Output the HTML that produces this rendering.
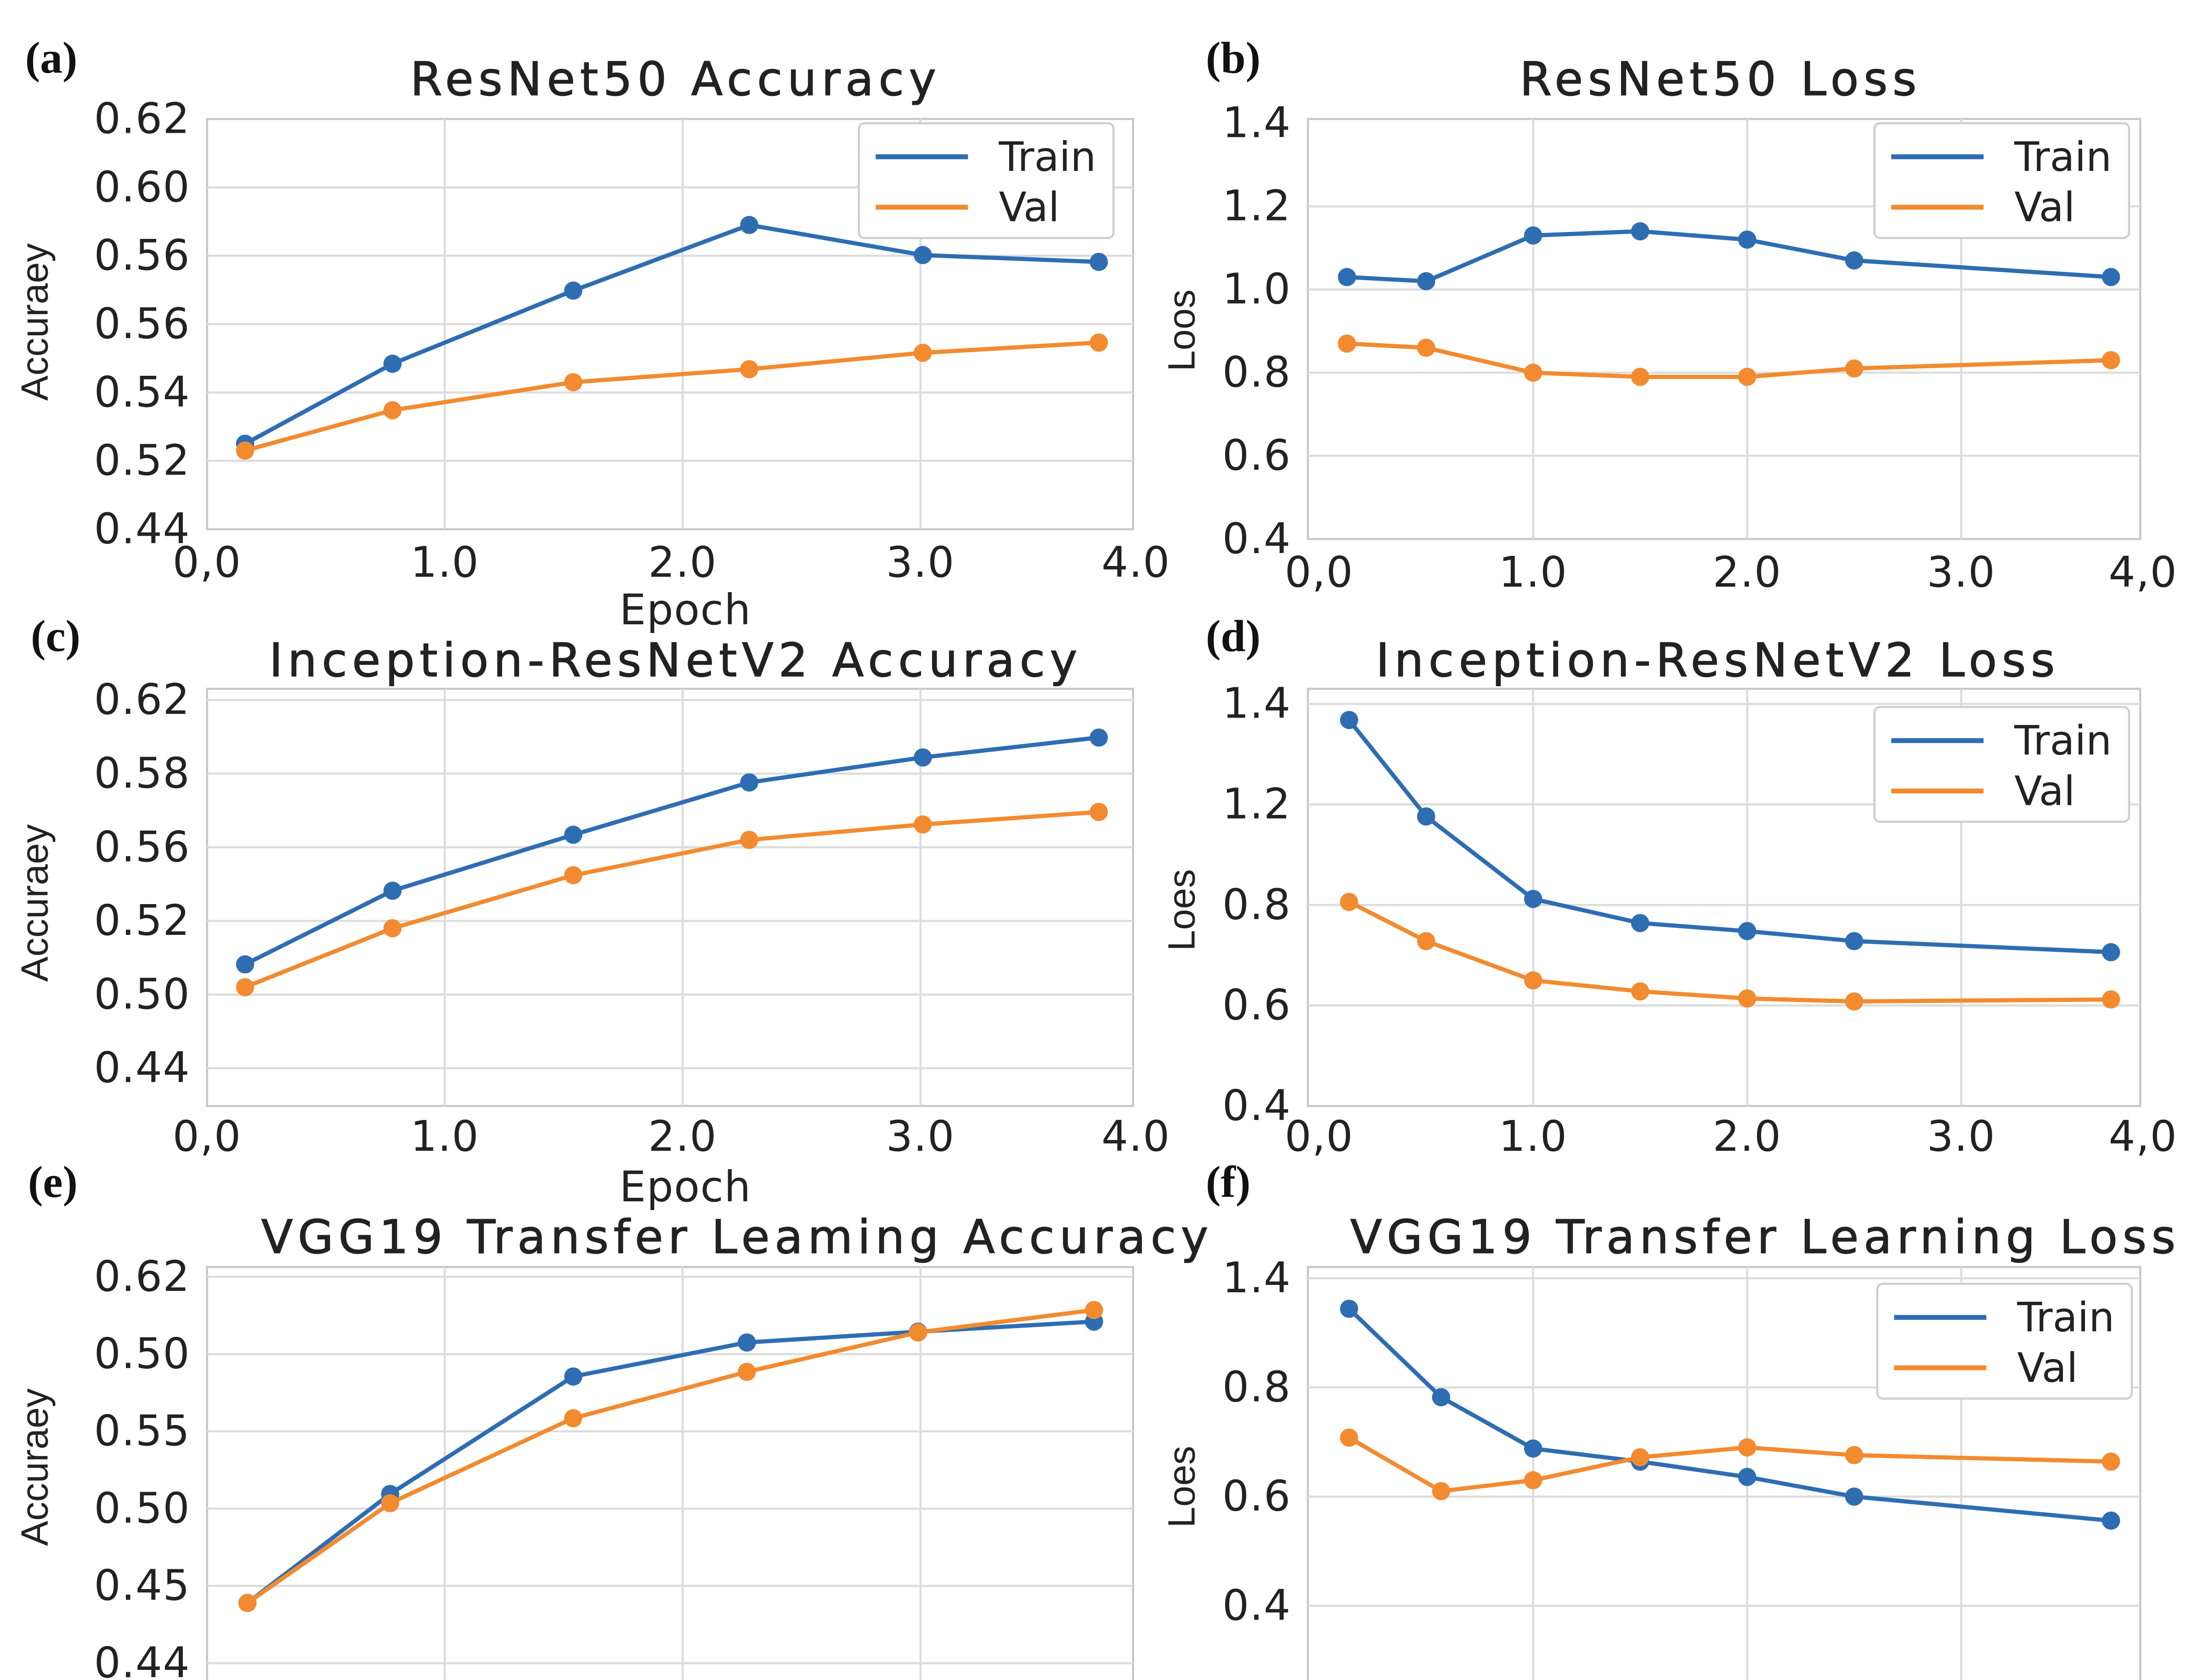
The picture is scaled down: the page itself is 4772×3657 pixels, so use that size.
<!DOCTYPE html>
<html><head><meta charset="utf-8"><title>Training curves</title>
<style>
html,body{margin:0;padding:0;background:#fff;}
svg{display:block;}
.tick{font-family:"DejaVu Sans","Liberation Sans",sans-serif;font-size:30px;fill:#222;letter-spacing:0.5px;}
.title{font-family:"DejaVu Sans","Liberation Sans",sans-serif;font-size:33px;fill:#222;letter-spacing:3.5px;stroke:#222;stroke-width:0.5px;}
.letter{font-family:"Liberation Serif",serif;font-weight:bold;font-size:32px;fill:#111;}
.ylab{font-family:"Liberation Sans",sans-serif;font-size:27px;fill:#222;}
.leg{font-family:"DejaVu Sans","Liberation Sans",sans-serif;font-size:29px;fill:#222;}
</style></head>
<body>
<svg id="fig" xmlns="http://www.w3.org/2000/svg" width="4772" height="3657" viewBox="0 0 1567 1200" preserveAspectRatio="none"></svg>
<script>
const aEpochs = [0.16, 0.78, 1.54, 2.28, 3.01, 3.75];
const aTrain = [1.25, 2.42, 3.49, 4.45, 4.01, 3.91];
const aVal = [1.15, 1.74, 2.15, 2.34, 2.58, 2.73];
const aYLabels = ['0.44','0.52','0.54','0.56','0.56','0.60','0.62'];

const bEpochs = [0.13, 0.5, 1.0, 1.5, 2.0, 2.5, 3.7];
const bTrain = [1.03, 1.02, 1.13, 1.14, 1.12, 1.07, 1.03];
const bVal = [0.87, 0.86, 0.80, 0.79, 0.79, 0.81, 0.83];
const bYLabels = ['0.4','0.6','0.8','1.0','1.2','1.4'];

const cEpochs = [0.16, 0.78, 1.54, 2.28, 3.01, 3.75];
const cTrain = [1.41, 2.41, 3.17, 3.88, 4.22, 4.49];
const cVal = [1.10, 1.90, 2.62, 3.10, 3.31, 3.48];
const cYLabels = ['0.44','0.50','0.52','0.56','0.58','0.62'];

const dEpochs = [0.14, 0.5, 1.0, 1.5, 2.0, 2.5, 3.7];
const dTrain = [3.84, 2.88, 2.06, 1.82, 1.74, 1.64, 1.53];
const dVal = [2.03, 1.64, 1.25, 1.14, 1.07, 1.04, 1.06];
const dYLabels = ['0.4','0.6','0.8','1.2','1.4'];

const eEpochs = [0.17, 0.77, 1.54, 2.27, 2.99, 3.73];
const eTrain = [0.78, 2.19, 3.71, 4.15, 4.29, 4.42];
const eVal = [0.78, 2.07, 3.17, 3.77, 4.28, 4.57];
const eYLabels = ['0.44','0.45','0.50','0.55','0.50','0.62'];

const fEpochs = [0.14, 0.57, 1.0, 1.5, 2.0, 2.5, 3.7];
const fTrain = [2.72, 1.91, 1.44, 1.32, 1.18, 1.00, 0.78];
const fVal = [1.54, 1.05, 1.15, 1.36, 1.45, 1.38, 1.32];
const fYLabels = ['0.4','0.6','0.8','1.4'];

const xLabels = ['0,0','1.0','2.0','3.0','4.0'];
const xLabelsR = ['0,0','1.0','2.0','3.0','4,0'];

const NS = 'http://www.w3.org/2000/svg';
const svg = document.getElementById('fig');
function mk(tag, attrs, parent, txt){
  const e = document.createElementNS(NS, tag);
  for (const k in attrs) e.setAttribute(k, attrs[k]);
  if (txt !== undefined) e.textContent = txt;
  (parent || svg).appendChild(e);
  return e;
}
const BLUE = '#2f6db2', ORANGE = '#f28b30';

const panels = [
 {id:'a', letter:'(a)', lx:18, ly:52, title:'ResNet50 Accuracy', tx:483, ty:68, left:148, right:810, top:85, bottom:378,
  xo:148, xs:170, y0:378, ys:48.83, vmin:0, step:1, yl:aYLabels, xl:xLabels, xly:412, epoch:446,
  ex:aEpochs, tr:aTrain, va:aVal, ytitle:'Accuraey', ytx:34, yty:230, legend:[614,88]},
 {id:'b', letter:'(b)', lx:862, ly:52, title:'ResNet50 Loss', tx:1230, ty:68, left:935, right:1530, top:85, bottom:385,
  xo:943, xs:153, y0:385, ys:59.4, vmin:0.4, step:0.2, yl:bYLabels, xl:xLabelsR, xly:419, epoch:null,
  ex:bEpochs, tr:bTrain, va:bVal, ytitle:'Loos', ytx:854, yty:236, legend:[1340,88]},
 {id:'c', letter:'(c)', lx:22, ly:465, title:'Inception-ResNetV2 Accuracy', tx:483, ty:483, left:148, right:810, top:492, bottom:790,
  xo:148, xs:170, y0:763, ys:52.6, vmin:0, step:1, yl:cYLabels, xl:xLabels, xly:822, epoch:858,
  ex:cEpochs, tr:cTrain, va:cVal, ytitle:'Accuraey', ytx:34, yty:645, legend:null},
 {id:'d', letter:'(d)', lx:862, ly:465, title:'Inception-ResNetV2 Loss', tx:1228, ty:483, left:935, right:1530, top:492, bottom:790,
  xo:943, xs:153, y0:790, ys:71.8, vmin:0, step:1, yl:dYLabels, xl:xLabelsR, xly:822, epoch:null,
  ex:dEpochs, tr:dTrain, va:dVal, ytitle:'Loes', ytx:854, yty:650, legend:[1340,505]},
 {id:'e', letter:'(e)', lx:20, ly:855, title:'VGG19 Transfer Leaming Accuracy', tx:527, ty:895, left:148, right:810, top:905, bottom:1215,
  xo:148, xs:170, y0:1188, ys:55.2, vmin:0, step:1, yl:eYLabels, xl:null, xly:0, epoch:null,
  ex:eEpochs, tr:eTrain, va:eVal, ytitle:'Accuraey', ytx:34, yty:1048, legend:null},
 {id:'f', letter:'(f)', lx:862, ly:855, title:'VGG19 Transfer Learning Loss', tx:1262, ty:895, left:935, right:1530, top:905, bottom:1215,
  xo:943, xs:153, y0:1147, ys:78, vmin:0, step:1, yl:fYLabels, xl:null, xly:0, epoch:null,
  ex:fEpochs, tr:fTrain, va:fVal, ytitle:'Loes', ytx:854, yty:1062, legend:[1342,917]}
];

panels.forEach(p => {
  const g = mk('g', {});
  
  
  const xS = v => p.xo + v * p.xs;
  const yS = v => p.y0 - (v - p.vmin) / p.step * p.ys;

  const bg = mk('rect', {x:p.left, y:p.top, width:p.right-p.left, height:p.bottom-p.top, fill:'#fff', stroke:'#c8c8c8', 'stroke-width':1.5}, g);
  
  

  for (let i = 1; i <= 3; i++) {
    const gx = xS(i);
    const gl = mk('line', {x1:gx, x2:gx, y1:p.top, y2:p.bottom, stroke:'#dcdcdc', 'stroke-width':1.5}, g);
    
    
  }
  p.yl.forEach((lab, i) => {
    const v = p.vmin + i * p.step;
    const gy = yS(v);
    if (gy > p.top + 4 && gy < p.bottom - 4) {
      const gl = mk('line', {x1:p.left, x2:p.right, y1:gy, y2:gy, stroke:'#dcdcdc', 'stroke-width':1.5}, g);
      
      
    }
    const t = mk('text', {x:p.left - 12, y:gy + 10, 'text-anchor':'end', class:'tick'}, g, lab);
    
    
  });
  if (p.xl) {
    p.xl.forEach((lab, i) => {
      const tx = Math.min(xS(i), p.right + 2);
      const t = mk('text', {x:tx, y:p.xly, 'text-anchor':'middle', class:'tick'}, g, lab);
      
      
    });
  }
  if (p.epoch) {
    const t = mk('text', {x:490, y:p.epoch, 'text-anchor':'middle', class:'tick'}, g, 'Epoch');
    
    
  }
  const ti = mk('text', {x:p.tx, y:p.ty, 'text-anchor':'middle', class:'title'}, g, p.title);
  
  
  const le = mk('text', {x:p.lx, y:p.ly, class:'letter'}, g, p.letter);
  
  
  const yt = mk('text', {x:p.ytx, y:p.yty, 'text-anchor':'middle', class:'ylab', transform:'rotate(-90 ' + p.ytx + ' ' + p.yty + ')'}, g, p.ytitle);
  
  

  [[p.tr, BLUE, 'train'], [p.va, ORANGE, 'val']].forEach(([vals, col, nm]) => {
    const pts = vals.map((v, i) => xS(p.ex[i]).toFixed(1) + ',' + yS(v).toFixed(1)).join(' ');
    const pl = mk('polyline', {points:pts, fill:'none', stroke:col, 'stroke-width':3, 'stroke-linejoin':'round'}, g);
    
    
    vals.forEach((v, i) => {
      const c = mk('circle', {cx:xS(p.ex[i]), cy:yS(v), r:6.5, fill:col}, g);
      
      
    });
  });

  if (p.legend) {
    const [lx, ly] = p.legend;
    const lg = mk('g', {}, g);
    
    
    mk('rect', {x:lx, y:ly, width:182, height:82, rx:4, fill:'#fff', stroke:'#cfcfcf', 'stroke-width':1.5}, lg);
    const l1 = mk('line', {x1:lx+12, x2:lx+78, y1:ly+24, y2:ly+24, stroke:BLUE, 'stroke-width':3.5}, lg);
    
    
    const t1 = mk('text', {x:lx+100, y:ly+34, class:'leg'}, lg, 'Train');
    
    
    const l2 = mk('line', {x1:lx+12, x2:lx+78, y1:ly+60, y2:ly+60, stroke:ORANGE, 'stroke-width':3.5}, lg);
    
    
    const t2 = mk('text', {x:lx+100, y:ly+70, class:'leg'}, lg, 'Val');
    
    
  }
});
</script>
</body></html>
